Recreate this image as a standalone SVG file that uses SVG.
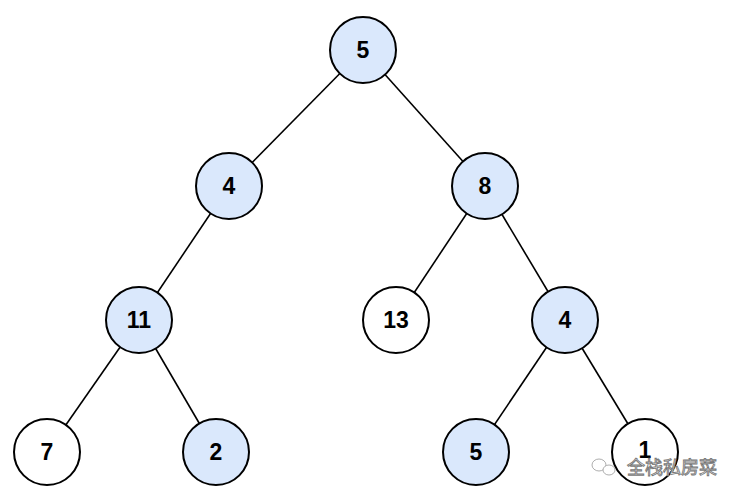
<svg xmlns="http://www.w3.org/2000/svg" width="740" height="500" viewBox="0 0 740 500">
<style>
.n circle{stroke:#000;stroke-width:2}
.b circle{fill:#dae8fc}
.w circle{fill:#fff}
.n text{font-family:"Liberation Sans",Arial,sans-serif;font-weight:bold;font-size:23px;text-anchor:middle;dominant-baseline:central;fill:#000}
#edges line{stroke:#000;stroke-width:1.6}
.wm{font-family:"Noto Sans CJK SC",sans-serif;font-size:18px;fill:#fff;stroke:#777;stroke-width:0.9}
</style>
<rect width="740" height="500" fill="#fff"/>
<g id="edges">
<line x1="363" y1="50" x2="229" y2="186"/>
<line x1="363" y1="50" x2="485" y2="186"/>
<line x1="229" y1="186" x2="139" y2="320"/>
<line x1="485" y1="186" x2="396" y2="320"/>
<line x1="485" y1="186" x2="565" y2="320"/>
<line x1="139" y1="320" x2="47" y2="452"/>
<line x1="139" y1="320" x2="216" y2="452"/>
<line x1="565" y1="320" x2="476" y2="452"/>
<line x1="565" y1="320" x2="645" y2="452"/>
</g>
<g id="n5" class="n b"><circle cx="363" cy="50" r="33"/><text x="363" y="50">5</text></g>
<g id="n4a" class="n b"><circle cx="229" cy="186" r="33"/><text x="229" y="186">4</text></g>
<g id="n8" class="n b"><circle cx="485" cy="186" r="33"/><text x="485" y="186">8</text></g>
<g id="n11" class="n b"><circle cx="139" cy="320" r="33"/><text x="139" y="320">11</text></g>
<g id="n13" class="n w"><circle cx="396" cy="320" r="33"/><text x="396" y="320">13</text></g>
<g id="n4b" class="n b"><circle cx="565" cy="320" r="33"/><text x="565" y="320">4</text></g>
<g id="n7" class="n w"><circle cx="47" cy="452" r="33"/><text x="47" y="452">7</text></g>
<g id="n2" class="n b"><circle cx="216" cy="452" r="33"/><text x="216" y="452">2</text></g>
<g id="n5b" class="n b"><circle cx="476" cy="452" r="33"/><text x="476" y="452">5</text></g>
<g id="n1" class="n w"><circle cx="645" cy="452" r="33"/><text x="645" y="450">1</text></g>
<g id="watermark">
<ellipse cx="599" cy="465" rx="7" ry="6" fill="#fff" stroke="#999" stroke-width="0.8"/>
<ellipse cx="609" cy="470" rx="6" ry="5" fill="#fff" stroke="#999" stroke-width="0.8"/>
<text class="wm" x="627" y="474">全栈私房菜</text>
</g>
</svg>
